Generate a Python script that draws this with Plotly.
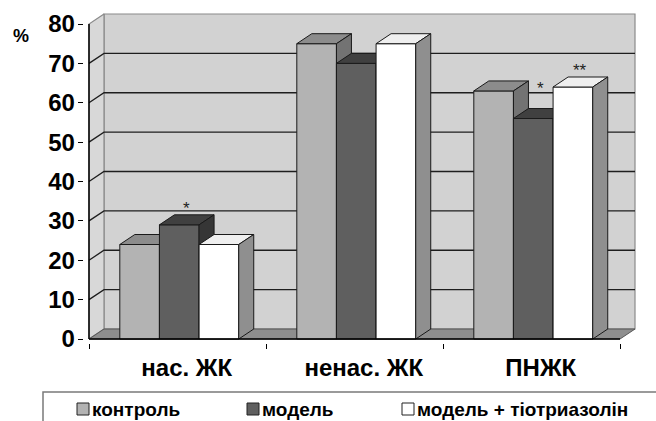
import plotly.graph_objects as go

# ---- data -------------------------------------------------------------
categories = ["нас. ЖК", "ненас. ЖК", "ПНЖК"]
series_names = ["контроль", "модель", "модель + тіотриазолін"]
control = [24, 75, 63]
model = [29, 70, 56]
treated = [24, 75, 64]
# significance marks per series, per category
marks_control = ["", "", ""]
marks_model = ["*", "", "*"]
marks_treated = ["", "", "**"]
y_ticks = [0, 10, 20, 30, 40, 50, 60, 70, 80]

# ---- styling ----------------------------------------------------------
FONT = "Liberation Sans, Arial, sans-serif"
W, H = 656, 421
PX_Y = 3.9375          # pixels per value unit
PX_X = 177.0           # pixels per category
X0_PX, Y0_PX = 89.0, 339.0   # pixel position of the front-left-bottom corner
DX = 15.0 / PX_X       # depth shift (category units)
DY = 10.0 / PX_Y       # depth shift (value units)
BAR_W = 0.224
GROUP_SHIFT = 0.51
YMAX = 80

face_colors = [
    # front, top, side
    ("#b3b3b3", "#8c8c8c", "#737373"),
    ("#5f5f5f", "#404040", "#363636"),
    ("#ffffff", "#efefef", "#8f8f8f"),
]
EDGE = "#1a1a1a"

x_lo, x_hi = -0.03, 3 + DX + 0.01
y_lo, y_hi = -1.0, YMAX + DY + 0.5


def px_x(u):
    return X0_PX + u * PX_X


def px_y(v):
    return Y0_PX - v * PX_Y


fig = go.Figure()


def poly(xs, ys, fill, line_color=EDGE, width=1.0):
    fig.add_trace(go.Scatter(
        x=list(xs) + [xs[0]], y=list(ys) + [ys[0]],
        mode="lines", fill="toself", fillcolor=fill,
        line=dict(color=line_color, width=width),
        hoverinfo="skip", showlegend=False))


def seg(xs, ys, color, width=1.3):
    fig.add_trace(go.Scatter(
        x=xs, y=ys, mode="lines", line=dict(color=color, width=width),
        hoverinfo="skip", showlegend=False))


# walls and floor
poly([DX, 3 + DX, 3 + DX, DX], [DY, DY, YMAX + DY, YMAX + DY], "#d2d2d2", "#8a8a8a", 1.2)
poly([0, DX, DX, 0], [0, DY, YMAX + DY, YMAX], "#d8d8d8", "#8a8a8a", 1.2)
poly([0, 3, 3 + DX, DX], [0, 0, DY, DY], "#8e8e8e", "#555555", 1.0)

# gridlines on the walls
for v in y_ticks[1:-1]:
    seg([0, DX, 3 + DX], [v, v + DY, v + DY], "#1e1e1e", 1.3)

# bars: front, top and right side faces, painted left to right
all_series = [control, model, treated]
all_marks = [marks_control, marks_model, marks_treated]
for i in range(len(categories)):
    c = i + GROUP_SHIFT
    for k, vals in enumerate(all_series):
        v = vals[i]
        x0 = c + (k - 1.5) * BAR_W
        x1 = x0 + BAR_W
        front, top, side = face_colors[k]
        poly([x0, x1, x1, x0], [0, 0, v, v], front)
        poly([x0, x1, x1 + DX, x0 + DX], [v, v, v + DY, v + DY], top)
        poly([x1, x1 + DX, x1 + DX, x1], [0, DY, v + DY, v], side)

# significance marks above the bars (raised over a taller left neighbour)
for i in range(len(categories)):
    c = i + GROUP_SHIFT
    for k, vals in enumerate(all_series):
        m = all_marks[k][i]
        if not m:
            continue
        v = vals[i]
        left = all_series[k - 1][i] if k > 0 else v
        level = left + 0.6 if left > v else v + 4.2
        xc = c + (k - 1) * BAR_W + DX / 2
        fig.add_annotation(x=xc, y=level, text=m, showarrow=False,
                           font=dict(family=FONT, size=17, color="#222222"),
                           xanchor="center", yanchor="middle")

# front axis lines
seg([0, 0], [0, YMAX], "#000000", 1.5)
seg([0, 3], [0, 0], "#000000", 1.5)

fig.update_layout(
    width=W, height=H, autosize=False,
    margin=dict(l=0, r=0, t=0, b=0, pad=0),
    paper_bgcolor="white", plot_bgcolor="rgba(0,0,0,0)",
    showlegend=False,
    xaxis=dict(
        range=[x_lo, x_hi], automargin=False,
        domain=[px_x(x_lo) / W, px_x(x_hi) / W],
        showgrid=False, zeroline=False, showline=False,
        tickmode="array",
        tickvals=[i + GROUP_SHIFT + DX / 2 for i in range(len(categories))],
        ticktext=categories, ticks="", ticklabelstandoff=8,
        tickfont=dict(family=FONT, size=24, color="#000000", weight="bold"),
        minor=dict(tickmode="array", tickvals=[0, 1, 2, 3], ticks="outside",
                   ticklen=5, tickcolor="#000000", tickwidth=1.3, showgrid=False),
        fixedrange=True,
    ),
    yaxis=dict(
        range=[y_lo, y_hi], automargin=False,
        domain=[1 - px_y(y_lo) / H, 1 - px_y(y_hi) / H],
        showgrid=False, zeroline=False, showline=False,
        tickmode="array", tickvals=y_ticks,
        ticks="outside", ticklen=5, tickcolor="#000000", tickwidth=1.3,
        ticklabelstandoff=-2,
        tickfont=dict(family=FONT, size=24, color="#000000", weight="bold"),
        fixedrange=True,
    ),
)

# "%" unit label
fig.add_annotation(xref="paper", yref="paper", x=21 / W, y=1 - 36 / H,
                   text="%", showarrow=False, xanchor="center", yanchor="middle",
                   font=dict(family=FONT, size=18, color="#000000", weight="bold"))

# legend box
fig.add_shape(type="rect", xref="paper", yref="paper",
              x0=43 / W, x1=1 + 3 / W, y0=-3 / H, y1=1 - 392 / H,
              line=dict(color="#7a7a7a", width=1.5), fillcolor="white")
legend_x = [77, 247, 402]
for k, name in enumerate(series_names):
    sx = legend_x[k]
    fig.add_shape(type="rect", xref="paper", yref="paper",
                  x0=sx / W, x1=(sx + 12) / W, y0=1 - 415 / H, y1=1 - 403 / H,
                  line=dict(color="#222222", width=1), fillcolor=face_colors[k][0])
    fig.add_annotation(xref="paper", yref="paper", x=(sx + 13) / W, y=1 - 409 / H,
                       text=name, showarrow=False, xanchor="left", yanchor="middle",
                       font=dict(family=FONT, size=19, color="#000000", weight="bold"))

fig.write_html("out.html")
